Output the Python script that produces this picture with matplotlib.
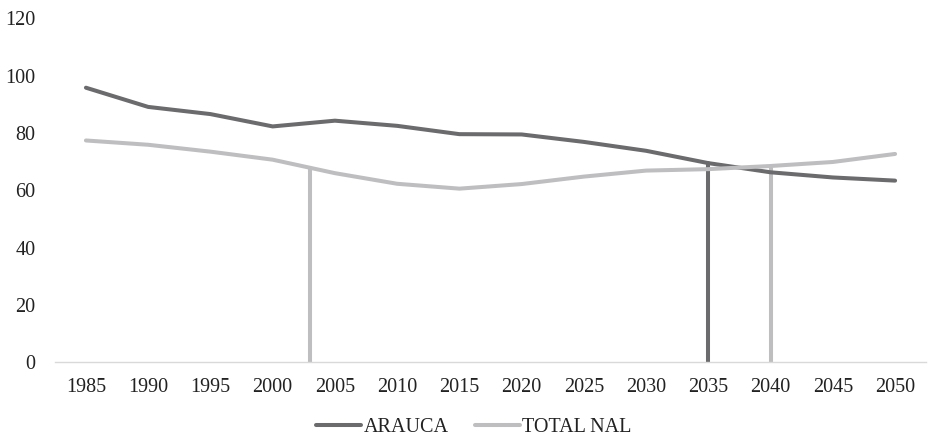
import matplotlib
matplotlib.use("Agg")
import matplotlib.pyplot as plt

years = [1985, 1990, 1995, 2000, 2005, 2010, 2015, 2020, 2025, 2030, 2035, 2040, 2045, 2050]
arauca = [95.8, 89.1, 86.6, 82.3, 84.3, 82.5, 79.6, 79.5, 76.9, 73.8, 69.5, 66.3, 64.5, 63.4]
total_nal = [77.4, 75.9, 73.5, 70.7, 66.0, 62.3, 60.6, 62.2, 64.8, 66.9, 67.4, 68.5, 69.9, 72.7]

# drop lines (year, top value, series)
drop_years = [2003, 2035, 2040]
drop_values = [67.8, 69.5, 67.8]
drop_series = ["TOTAL NAL", "ARAUCA", "TOTAL NAL"]

dark = "#6b6b6e"
light = "#bebec1"
colors = {"ARAUCA": dark, "TOTAL NAL": light}

plt.rcParams['font.family'] = ['Liberation Serif', 'DejaVu Serif']
FS = 14.5

fig = plt.figure(figsize=(9.29, 4.42), dpi=100)
ax = fig.add_axes([0.059, 0.18, 0.938, 0.7786])

for yr, v, s in zip(drop_years, drop_values, drop_series):
    ax.plot([yr, yr], [0, v], color=colors[s], lw=2.9, solid_capstyle='round', zorder=2)

ax.plot(years, arauca, color=dark, lw=2.9, solid_capstyle='round', solid_joinstyle='round', label="ARAUCA", zorder=3)
ax.plot(years, total_nal, color=light, lw=2.9, solid_capstyle='round', solid_joinstyle='round', label="TOTAL NAL", zorder=3)

ax.set_xlim(1982.5, 2052.5)
ax.set_ylim(0, 120)
ax.set_yticks(range(0, 121, 20))
ax.set_xticks(years)
ax.set_xticklabels([str(y) for y in years])
for sp in ["top", "right", "left"]:
    ax.spines[sp].set_visible(False)
ax.spines["bottom"].set_color("#d9d9d9")
ax.spines["bottom"].set_linewidth(1.0)
ax.tick_params(axis='both', length=0, labelsize=FS, colors="#222222")
ax.tick_params(axis='x', pad=11)
ax.tick_params(axis='y', pad=14)

leg = fig.legend(loc='center', bbox_to_anchor=(0.51, 0.032), ncol=2, frameon=False,
                 fontsize=FS, handlelength=2.25, handletextpad=0.1, columnspacing=1.3)
for t in leg.get_texts():
    t.set_color("#222222")

fig.savefig("out.png", dpi=100)
